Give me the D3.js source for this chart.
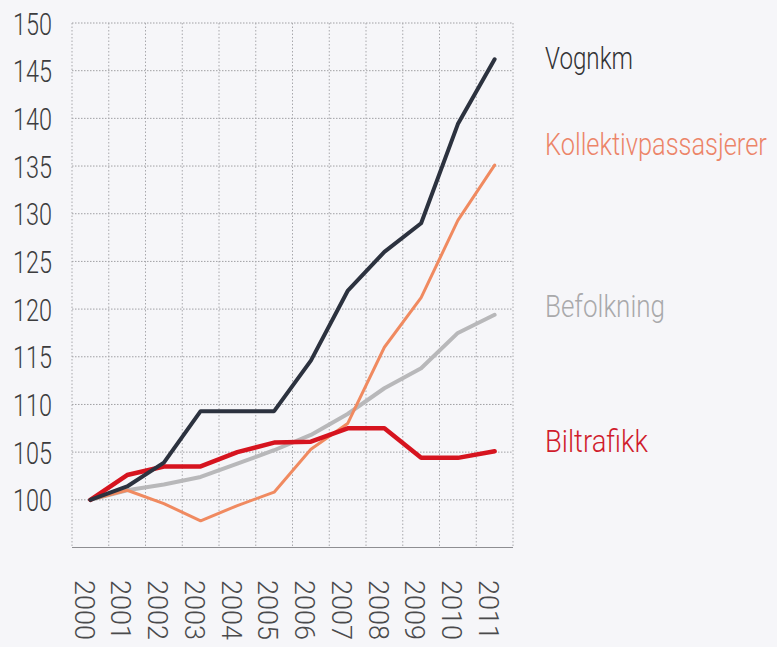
<!DOCTYPE html>
<html><head><meta charset="utf-8">
<script src="https://cdn.jsdelivr.net/npm/d3@7"></script>
<style>
html,body{margin:0;padding:0;background:#f6f6f9;}
svg{display:block;}
text{font-family:"Roboto","DejaVu Sans",sans-serif;font-weight:300;}
</style></head>
<body>
<svg id="chart" width="777" height="647"></svg>
<script>
const years = ["2000","2001","2002","2003","2004","2005","2006","2007","2008","2009","2010","2011"];
const yTicks = [100,105,110,115,120,125,130,135,140,145,150];
const vognkm = [100,101.4,103.9,109.3,109.3,109.3,114.6,121.9,126,129,139.4,146.2];
const kollektiv = [100,101,99.6,97.8,99.4,100.8,105.3,108,116,121.2,129.3,135.1];
const befolkning = [100,101,101.6,102.4,103.8,105.2,106.8,109,111.7,113.8,117.5,119.4];
const biltrafikk = [100,102.6,103.5,103.5,105,106,106.1,107.5,107.5,104.4,104.4,105.1];
const seriesNames = ["Befolkning","Kollektivpassasjerer","Biltrafikk","Vognkm"];

const series = [
  {name:"Befolkning", values:befolkning, color:"#b8b8ba", width:4, label:"#a9a9ab", ly:317, len:120},
  {name:"Kollektivpassasjerer", values:kollektiv, color:"#f08a60", width:3, label:"#ec8468", ly:155, len:222},
  {name:"Biltrafikk", values:biltrafikk, color:"#d6141f", width:4.5, label:"#d01c2c", ly:452, len:103},
  {name:"Vognkm", values:vognkm, color:"#2c323f", width:4, label:"#333335", ly:69, len:88}
];

const svg = d3.select("#chart");
const pLeft = 72, pRight = 513, pTop = 23, pBottom = 547.5;
const x = d3.scaleBand().domain(years).range([pLeft, pRight]).padding(0);
const y = d3.scaleLinear().domain([95,150]).range([pBottom, pTop]);
const cx = d => x(d) + x.bandwidth()/2;

const grid = svg.append("g");
grid.selectAll("line.h").data(yTicks).join("line")
  .attr("x1", pLeft).attr("x2", pRight)
  .attr("y1", d => y(d)).attr("y2", d => y(d))
  .attr("stroke", "#a0a0a4").attr("stroke-width", 1).attr("stroke-dasharray", "1.5,1.5");
const edges = years.map(d => x(d)).concat([pRight]);
grid.selectAll("line.v").data(edges).join("line")
  .attr("x1", d => d).attr("x2", d => d)
  .attr("y1", pTop).attr("y2", pBottom)
  .attr("stroke", "#a8a8ac").attr("stroke-width", 1).attr("stroke-dasharray", "1.5,2");
svg.append("line").attr("x1", pLeft).attr("x2", pRight).attr("y1", pBottom).attr("y2", pBottom)
  .attr("stroke", "#8e8e92").attr("stroke-width", 1.2);

// condense text horizontally to a target width
function fitX(sel, tx, ty, target, extra) {
  sel.each(function(d) {
    const t = d3.select(this);
    const w = this.getComputedTextLength();
    const T = typeof target === "function" ? target(d) : target;
    const sx = w > 0 ? T / w : 1;
    t.attr("transform", `translate(${tx(d)},${ty(d)}) ${extra || ""} scale(${sx},1)`);
  });
}

const yl = svg.append("g").selectAll("text").data(yTicks).join("text")
  .attr("dy", "0.36em")
  .attr("text-anchor", "end").attr("font-size", 32).attr("fill", "#3c3c3e")
  .text(d => d);
fitX(yl, () => 52, d => y(d), 39);

const xl = svg.append("g").selectAll("text").data(years).join("text")
  .attr("dy", "0.35em")
  .attr("text-anchor", "start").attr("font-size", 28).attr("fill", "#4a4a4c")
  .text(d => d);
fitX(xl, d => cx(d) - 6, () => 580, 60, "rotate(90)");

const line = d3.line().x((v,i) => cx(years[i])).y(v => y(v));
svg.append("g").selectAll("path").data(series).join("path")
  .attr("d", s => line(s.values))
  .attr("fill", "none").attr("stroke", s => s.color).attr("stroke-width", s => s.width)
  .attr("stroke-linejoin", "round").attr("stroke-linecap", "round");

const lg = svg.append("g").selectAll("text").data(series).join("text")
  .attr("font-size", 32).attr("fill", s => s.label)
  .text(s => s.name);
fitX(lg, () => 545, s => s.ly, s => s.len);
</script>
</body></html>
